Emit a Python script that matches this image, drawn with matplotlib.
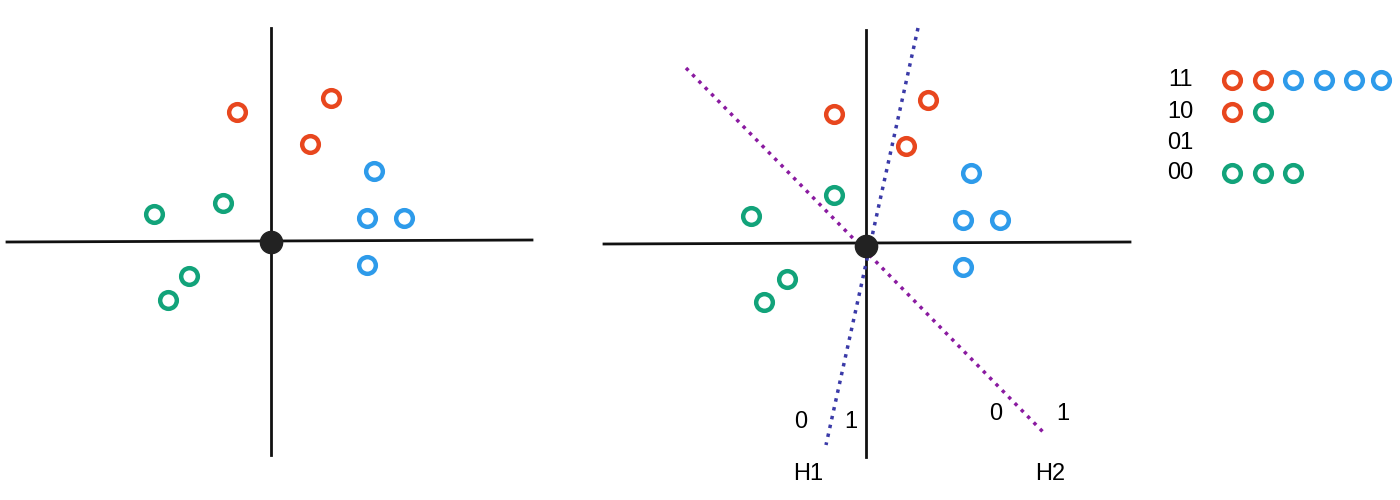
import matplotlib
matplotlib.use("Agg")
import matplotlib.pyplot as plt

RED, BLUE, GREEN = "#E8471E", "#2E9BEA", "#12A37A"

left_red = [(237,112),(331,98),(310,144)]
left_blue = [(374,171),(367,218),(404,218),(367,265)]
left_green = [(154,214),(223,203),(189,276),(168,300)]
right_red = [(834,114),(928,100),(906,146)]
right_blue = [(971,173),(963,220),(1000,220),(963,267)]
right_green = [(751,216),(834,195),(787,279),(764,302)]

legend_rows = ["11", "10", "01", "00"]
legend_colors = [[RED,RED,BLUE,BLUE,BLUE,BLUE],[RED,GREEN],[],[GREEN,GREEN,GREEN]]

fig = plt.figure(figsize=(14,5), dpi=100)
ax = fig.add_axes([0,0,1,1])
ax.set_xlim(0,1400); ax.set_ylim(500,0); ax.axis("off")

def ring(pts, c):
    xs=[p[0] for p in pts]; ys=[p[1] for p in pts]
    ax.plot(xs, ys, "o", ms=12, mfc="white", mec=c, mew=3.2, ls="none", zorder=5)

# left axes
ax.plot([271,271],[28,455],color="#111",lw=2)
ax.plot([7,532],[242,240],color="#111",lw=2)
ax.plot([271],[242],"o",ms=16,color="#222",zorder=6)
ring(left_red,RED); ring(left_blue,BLUE); ring(left_green,GREEN)

# right axes
ax.plot([866,866],[30,457],color="#111",lw=2)
ax.plot([604,1130],[244,242],color="#111",lw=2)
ax.plot([918,826],[28,445],color="#3a3aa8",lw=2.5,ls=(0,(1,1.6)))
ax.plot([686,1046],[68,435],color="#8a1aa0",lw=2.5,ls=(0,(1,1.6)))
ax.plot([866],[246],"o",ms=16,color="#222",zorder=6)
ring(right_red,RED); ring(right_blue,BLUE); ring(right_green,GREEN)

fs=17
for x,y,t in [(801,422,"0"),(851,422,"1"),(808,474,"H1"),(996,414,"0"),(1063,414,"1"),(1050,474,"H2")]:
    ax.text(x,y,t,fontsize=fs,ha="center",va="center",family="Liberation Sans")

ys=[80,112,143,173]
for t,y,cols in zip(legend_rows,ys,legend_colors):
    ax.text(1180,y,t,fontsize=fs,ha="center",va="center",family="Liberation Sans")
    xs=[1232,1263,1293,1324,1354,1381][:len(cols)]
    for x,c in zip(xs,cols):
        ax.plot([x],[y],"o",ms=12,mfc="white",mec=c,mew=3.2)

fig.savefig("out.png",dpi=100,facecolor="white")
